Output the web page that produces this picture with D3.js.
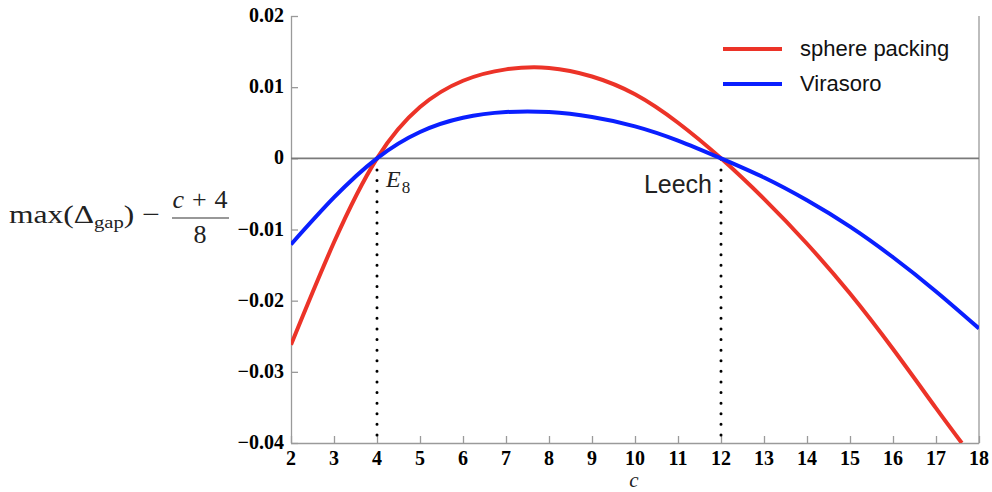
<!DOCTYPE html>
<meta charset="utf-8">
<style>
body { margin: 0; background: #fff; }
.tick-label { font-family: "Liberation Serif", serif; font-weight: bold; font-size: 20px; fill: #000; }
.legend text { font-family: "Liberation Sans", sans-serif; font-size: 22px; fill: #111; }
.math { font-family: "Liberation Serif", serif; fill: #222; }
</style>
<svg width="992" height="492"></svg>
<script src="https://d3js.org/d3.v7.min.js"></script>
<script>

// values
var cSphere = [2, 3, 4, 5, 6, 7, 8, 9, 10, 11, 12, 13, 14, 15, 16, 17, 17.6];
var spherePacking = [-0.0262, -0.0118, 0, 0.0072, 0.0109, 0.0125, 0.0127, 0.0115, 0.0090, 0.0050, 0, -0.0057, -0.0120, -0.0190, -0.0268, -0.0351, -0.0400];

var cVirasoro = [2, 3, 4, 5, 6, 7, 8, 9, 10, 11, 12, 13, 14, 15, 16, 17, 18];
var virasoro = [-0.0121, -0.0055, 0, 0.0037, 0.0057, 0.0065, 0.0065, 0.0058, 0.0045, 0.0025, 0, -0.0027, -0.0059, -0.0096, -0.0139, -0.0187, -0.0239];

var xTicks = [2, 3, 4, 5, 6, 7, 8, 9, 10, 11, 12, 13, 14, 15, 16, 17, 18];
var yTicks = [0.02, 0.01, 0, -0.01, -0.02, -0.03, -0.04];
var markers = [4, 12];
var seriesNames = ["sphere packing", "Virasoro"];
var seriesColors = ["#ec3328", "#0a1fff"];

var svg = d3.select("svg");

var x = d3.scaleLinear().domain([2, 18]).range([291, 979]);
var y = d3.scaleLinear().domain([-0.04, 0.02]).range([443, 16]);

svg.append("clipPath").attr("id", "plot")
  .append("rect").attr("x", 291).attr("y", 16).attr("width", 688).attr("height", 427);

// frame: left, bottom, right
var yAxis = svg.append("g").attr("transform", "translate(291,0)")
  .call(d3.axisRight(y).tickValues(yTicks).tickSize(7).tickFormat(""));
var xAxis = svg.append("g").attr("transform", "translate(0,443)")
  .call(d3.axisTop(x).tickValues(xTicks).tickSize(7).tickFormat(""));
[yAxis, xAxis].forEach(function(a) {
  a.selectAll("path, line").attr("stroke", "#9a9a9a").attr("stroke-width", 1.3);
});
yAxis.select(".domain").attr("d", "M0.5,16V443.5");
xAxis.select(".domain").attr("d", "M291,0.5H979");
svg.append("line").attr("x1", 979).attr("x2", 979).attr("y1", 16).attr("y2", 443.5)
  .attr("stroke", "#9a9a9a").attr("stroke-width", 1.3);

// tick labels
svg.append("g").selectAll("text").data(yTicks).enter().append("text")
  .attr("class", "tick-label")
  .attr("x", 284).attr("y", function(d) { return y(d) + 6; })
  .attr("text-anchor", "end")
  .text(function(d) { return d === 0 ? "0" : (d < 0 ? "\u2212" : "") + Math.abs(d).toFixed(2); });

svg.append("g").selectAll("text").data(xTicks).enter().append("text")
  .attr("class", "tick-label")
  .attr("x", function(d) { return x(d); }).attr("y", 465)
  .attr("text-anchor", "middle")
  .text(function(d) { return d; });

// zero line
svg.append("line").attr("x1", x(2)).attr("x2", x(18)).attr("y1", y(0)).attr("y2", y(0))
  .attr("stroke", "#7a7a7a").attr("stroke-width", 1.8);

// dotted markers
svg.append("g").selectAll("line").data(markers).enter().append("line")
  .attr("x1", function(d) { return x(d); }).attr("x2", function(d) { return x(d); })
  .attr("y1", y(0) + 1).attr("y2", y(-0.04))
  .attr("stroke", "#000").attr("stroke-width", 3)
  .attr("stroke-linecap", "round").attr("stroke-dasharray", "0 10.6");

// curves
var line = d3.line()
  .x(function(d) { return x(d[0]); })
  .y(function(d) { return y(d[1]); })
  .curve(d3.curveNatural);

var curves = [d3.zip(cSphere, spherePacking), d3.zip(cVirasoro, virasoro)];
svg.append("g").attr("clip-path", "url(#plot)")
  .selectAll("path").data(curves).enter().append("path")
  .attr("d", line)
  .attr("fill", "none")
  .attr("stroke", function(d, i) { return seriesColors[i]; })
  .attr("stroke-width", 4);

// marker labels
var e8 = svg.append("text").attr("class", "math").attr("x", 386).attr("y", 187).attr("font-size", 24);
e8.append("tspan").attr("font-style", "italic").text("E");
e8.append("tspan").attr("font-size", 17).attr("dy", 6).attr("dx", 1).text("8");

svg.append("text").attr("x", 712).attr("y", 193).attr("text-anchor", "end")
  .attr("font-family", "Liberation Sans, sans-serif").attr("font-size", 25).attr("fill", "#222")
  .text("Leech");

// legend
var legend = svg.append("g").attr("class", "legend");
var items = legend.selectAll("g").data(seriesNames).enter().append("g")
  .attr("transform", function(d, i) { return "translate(0," + (49 + i * 35) + ")"; });
items.append("line").attr("x1", 723).attr("x2", 782)
  .attr("stroke", function(d, i) { return seriesColors[i]; }).attr("stroke-width", 4);
items.append("text").attr("x", 800).attr("y", 7).text(function(d) { return d; });

// axis titles
svg.append("text").attr("class", "math").attr("x", 634).attr("y", 487)
  .attr("text-anchor", "middle").attr("font-size", 21).attr("font-style", "italic").text("c");

var yl = svg.append("text").attr("class", "math").attr("x", 9).attr("y", 223).attr("font-size", 26)
  .attr("textLength", 151).attr("lengthAdjust", "spacingAndGlyphs");
yl.append("tspan").text("max(\u0394");
yl.append("tspan").attr("font-size", 17).attr("dy", 5).text("gap");
yl.append("tspan").attr("dy", -5).text(") \u2212");

var num = svg.append("text").attr("class", "math").attr("x", 200).attr("y", 208)
  .attr("text-anchor", "middle").attr("font-size", 26)
  .attr("textLength", 55).attr("lengthAdjust", "spacing");
num.append("tspan").attr("font-style", "italic").text("c");
num.append("tspan").text(" + 4");
svg.append("line").attr("x1", 172).attr("x2", 229).attr("y1", 218).attr("y2", 218)
  .attr("stroke", "#333").attr("stroke-width", 1.2);
svg.append("text").attr("class", "math").attr("x", 200).attr("y", 243)
  .attr("text-anchor", "middle").attr("font-size", 26).text("8");

</script>
